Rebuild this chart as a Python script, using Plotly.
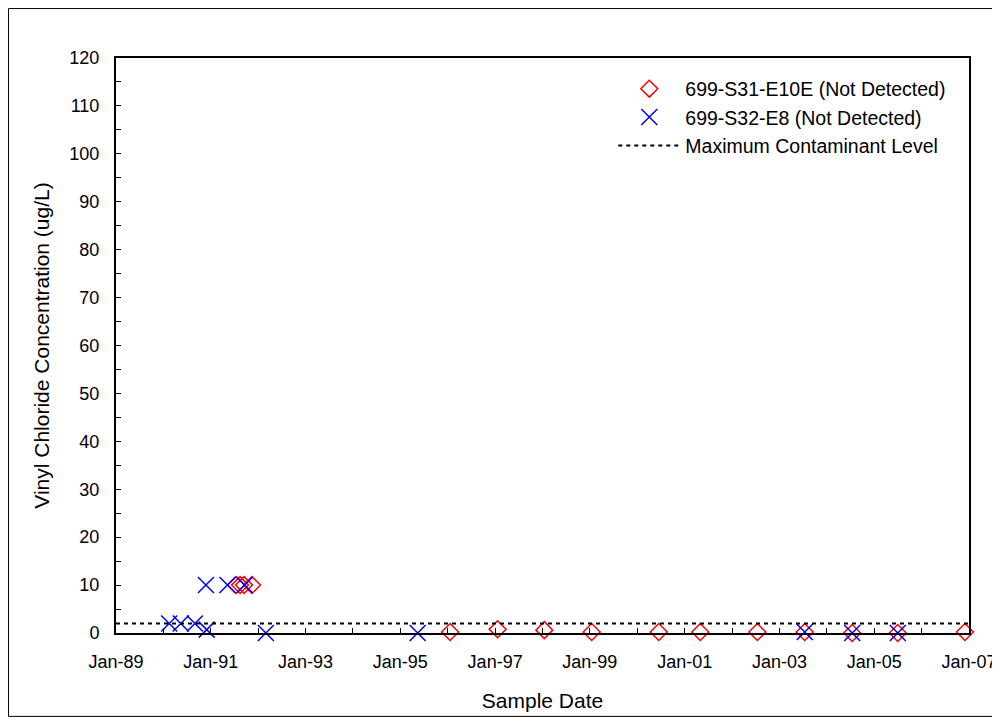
import plotly.graph_objects as go

# 699-S31-E10E (red diamonds)
e10e_dates = [
    "1991-07-15", "1991-08-15", "1991-09-15", "1991-11-15",
    "1996-01-20", "1997-01-20", "1998-01-15", "1999-01-15",
    "2000-06-15", "2001-05-01", "2002-07-15", "2003-07-15",
    "2004-07-15", "2005-07-01", "2006-12-01",
]
e10e_values = [10, 10, 10, 10, 0.2, 0.8, 0.6, 0.2, 0.2, 0.2, 0.2, 0.2, 0, 0, 0.2]

# 699-S32-E8 (blue crosses)
e8_dates = [
    "1990-02-15", "1990-05-15", "1990-09-01", "1990-12-01", "1990-11-25",
    "1991-05-10", "1991-09-20", "1992-03-01", "1995-05-15",
    "2003-07-15", "2004-07-15", "2005-07-01",
]
e8_values = [2, 2, 2, 0.7, 10, 10, 10, 0, 0, 0.2, 0, 0]

# maximum contaminant level
mcl_dates = ["1989-01-01", "2007-01-01"]
mcl_values = [2, 2]

FONT = "Liberation Sans, Arial, sans-serif"

fig = go.Figure()
fig.add_trace(go.Scatter(
    x=e10e_dates, y=e10e_values, mode="markers",
    name="699-S31-E10E (Not Detected)",
    marker=dict(symbol="diamond-open", size=13, color="#FF0000",
                line=dict(color="#FF0000", width=1.5)),
    cliponaxis=False,
))
fig.add_trace(go.Scatter(
    x=e8_dates, y=e8_values, mode="markers",
    name="699-S32-E8 (Not Detected)",
    marker=dict(symbol="x-thin", size=16, color="#0000FF",
                line=dict(color="#0000FF", width=1.5)),
    cliponaxis=False,
))
fig.add_trace(go.Scatter(
    x=mcl_dates, y=mcl_values, mode="lines",
    name="Maximum Contaminant Level",
    line=dict(color="black", width=2, dash="4px,4px"),
))

# page body adds an 8px margin all round, so the figure is kept inside the window
fig.update_layout(
    width=992, height=709,
    margin=dict(l=108, r=31, t=50, b=84),
    paper_bgcolor="white", plot_bgcolor="white",
    font=dict(family=FONT, size=18, color="black"),
    showlegend=True,
    legend=dict(x=0.583, y=0.98, xanchor="left", yanchor="top",
                font=dict(size=19.5), itemwidth=62, bgcolor="rgba(0,0,0,0)"),
    shapes=[dict(type="rect", xref="paper", yref="paper",
                 x0=-0.126, x1=1.0305, y0=-0.145, y1=1.086,
                 line=dict(color="black", width=1))],
)
fig.update_xaxes(
    type="date", range=["1989-01-01", "2007-01-01"], automargin=False,
    tick0="1989-01-01", dtick="M24", tickformat="%b-%y",
    ticks="inside", ticklen=5, tickcolor="black",
    minor=dict(dtick="M12", ticks="inside", ticklen=5, tickcolor="black"),
    showline=True, linecolor="black", linewidth=2, mirror=True,
    showgrid=False, zeroline=False, ticklabelstandoff=11,
    title=dict(text="Sample Date", font=dict(size=21), standoff=23),
)
fig.update_yaxes(
    range=[0, 120], dtick=10, automargin=False,
    ticks="inside", ticklen=5, tickcolor="black",
    minor=dict(dtick=5, ticks="inside", ticklen=5, tickcolor="black"),
    showline=True, linecolor="black", linewidth=2, mirror=True,
    showgrid=False, zeroline=False, ticklabelstandoff=11,
    title=dict(text="Vinyl Chloride Concentration (ug/L)", font=dict(size=21), standoff=14),
)

fig.write_html("out.html")
